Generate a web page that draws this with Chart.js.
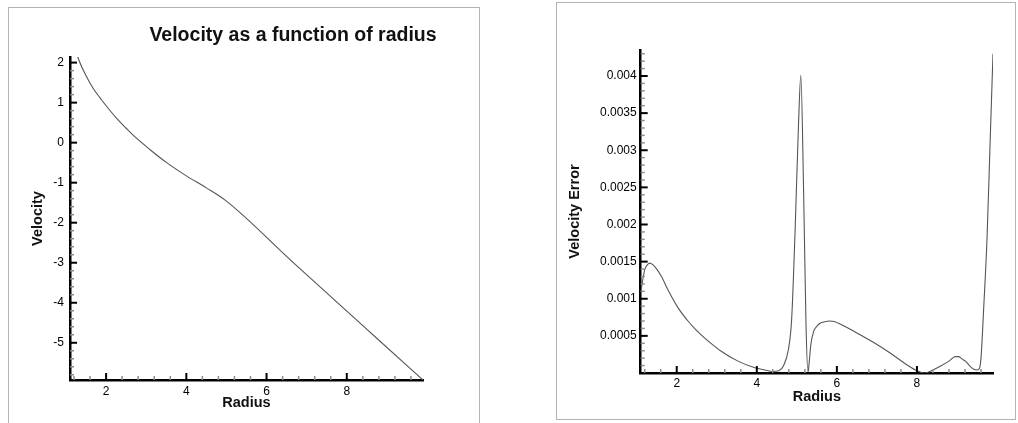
<!DOCTYPE html>
<html>
<head>
<meta charset="utf-8">
<script src="https://cdn.jsdelivr.net/npm/chart.js@4.4.1/dist/chart.umd.min.js"></script>
<style>
body { margin: 0; background: #fff; }
.box { position: absolute; border: 1.5px solid #b4b4b4; }
canvas { position: absolute; }
</style>
</head>
<body>
<div class="box" style="left:8px;top:7px;width:470px;height:430px;"></div>
<div class="box" style="left:556px;top:2px;width:458px;height:416px;"></div>
<canvas id="velChart" width="472" height="416" style="left:8px;top:7px;"></canvas>
<canvas id="errChart" width="459" height="417" style="left:557px;top:3px;"></canvas>
<script>
// velocity vs radius (left panel)
var velRadius = [1.1, 1.3, 1.5, 1.7, 1.85, 2.05, 2.27, 2.5, 2.68, 3.09, 3.51, 4.0, 4.5, 5.0, 6.66, 8.85, 9.9];
var velocity  = [2.8, 2.12, 1.67, 1.32, 1.12, 0.86, 0.6, 0.36, 0.18, -0.17, -0.5, -0.83, -1.13, -1.46, -2.99, -4.98, -5.93];

// velocity error vs radius (right panel)
var errRadius = [1.1, 1.15, 1.2, 1.27, 1.33, 1.4, 1.5, 1.62, 1.78, 2.03,
                 2.28, 2.5, 2.7, 3.12, 3.53, 3.95, 4.2, 4.4, 4.55, 4.67,
                 4.79, 4.87, 4.96, 5.04, 5.1, 5.17, 5.23, 5.28, 5.31, 5.35,
                 5.42, 5.5, 5.58, 5.7, 5.83, 5.95, 6.08, 6.3, 6.5, 6.92,
                 7.33, 7.75, 8.0, 8.2, 8.4, 8.58, 8.8, 8.96, 9.04, 9.12,
                 9.21, 9.33, 9.42, 9.5, 9.56, 9.6, 9.67, 9.75, 9.83, 9.9];
var velError  = [0.00108, 0.00125, 0.00139, 0.00146, 0.00148, 0.00146, 0.0014, 0.0013, 0.00112, 0.00088,
                 0.0007, 0.00057, 0.00047, 0.00029, 0.00016, 0.00007, 0.00004, 0.00002, 0.00003, 0.0001,
                 0.00032, 0.00072, 0.00197, 0.00332, 0.00401, 0.00242, 0.00063, 0.00001, 0.00015, 0.00038,
                 0.00056, 0.00063, 0.00067, 0.00069, 0.0007, 0.00069, 0.00066, 0.0006, 0.00054, 0.00041,
                 0.00027, 0.00011, 0.00003, 0.0, 0.00004, 0.00009, 0.00016, 0.00022, 0.00022, 0.00019,
                 0.00016, 0.00009, 0.00005, 0.00004, 0.00006, 0.0002, 0.0009, 0.0018, 0.00314, 0.0043];

var radiusTicks = [2, 4, 6, 8];
var velTicks = [-5, -4, -3, -2, -1, 0, 1, 2];
var errTicks = [0.0005, 0.001, 0.0015, 0.002, 0.0025, 0.003, 0.0035, 0.004];
var errTickLabels = ['0.0005', '0.001', '0.0015', '0.002', '0.0025', '0.003', '0.0035', '0.004'];

var FONT = '"Liberation Sans", Arial, Helvetica, sans-serif';
Chart.defaults.font.family = FONT;

function minorTicks(from, to, step, majors) {
    var out = [];
    var n = Math.round((to - from) / step);
    for (var i = 0; i <= n; i++) {
        var v = Math.round((from + i * step) * 1e6) / 1e6;
        var isMajor = majors.some(function(m) { return Math.abs(m - v) < 1e-9; });
        if (!isMajor) out.push(v);
    }
    return out;
}

function toPoints(xs, ys) {
    return xs.map(function(x, i) { return { x: x, y: ys[i] }; });
}

// inward tick marks (major + minor) and the free standing title
var axisMarks = {
    id: 'axisMarks',
    afterDraw: function(chart, args, opts) {
        var ctx = chart.ctx;
        var area = chart.chartArea;
        var xs = chart.scales.x, ys = chart.scales.y;
        ctx.save();
        function mark(vals, len, color, width, horiz) {
            ctx.strokeStyle = color;
            ctx.lineWidth = width;
            vals.forEach(function(v) {
                ctx.beginPath();
                if (horiz) {
                    var px = xs.getPixelForValue(v);
                    ctx.moveTo(px, area.bottom);
                    ctx.lineTo(px, area.bottom - len);
                } else {
                    var py = ys.getPixelForValue(v);
                    ctx.moveTo(area.left, py);
                    ctx.lineTo(area.left + len, py);
                }
                ctx.stroke();
            });
        }
        mark(opts.xMinor, 4, '#8c8c8c', 1.5, true);
        mark(opts.yMinor, 4, '#8c8c8c', 1.5, false);
        mark(opts.xMajor, 7, '#000', 2, true);
        mark(opts.yMajor, 7, '#000', 2, false);
        if (opts.title) {
            ctx.font = 'bold 19.5px ' + FONT;
            ctx.fillStyle = '#111';
            ctx.textAlign = 'center';
            ctx.textBaseline = 'middle';
            ctx.fillText(opts.title, opts.titleX, opts.titleY);
        }
        ctx.restore();
    }
};

function makeChart(id, cfg) {
    var ctx = document.getElementById(id).getContext('2d');
    return new Chart(ctx, {
        type: 'line',
        data: {
            datasets: [{
                data: cfg.points,
                borderColor: '#555',
                borderWidth: 1.1,
                pointRadius: 0,
                fill: false,
                cubicInterpolationMode: 'monotone'
            }]
        },
        options: {
            responsive: false,
            animation: false,
            layout: { padding: cfg.padding },
            plugins: {
                legend: { display: false },
                tooltip: { enabled: false },
                axisMarks: cfg.marks
            },
            scales: {
                x: {
                    type: 'linear',
                    min: 1.1,
                    max: 9.9,
                    afterBuildTicks: function(s) { s.ticks = radiusTicks.map(function(v) { return { value: v }; }); },
                    afterFit: function(s) { s.height = 34; },
                    grid: { display: false, drawTicks: false },
                    border: { display: true, color: '#000', width: 2.5 },
                    ticks: {
                        padding: cfg.xPad, color: '#000', autoSkip: false, maxRotation: 0,
                        font: { size: 12 },
                        callback: function(v) { return String(v); }
                    },
                    title: {
                        display: true, text: 'Radius', color: '#111',
                        font: { size: 14.5, weight: 'bold' },
                        padding: { top: 0, bottom: cfg.xTitlePad }
                    }
                },
                y: {
                    type: 'linear',
                    min: cfg.yMin,
                    max: cfg.yMax,
                    afterBuildTicks: function(s) { s.ticks = cfg.yTicks.map(function(v) { return { value: v }; }); },
                    afterFit: function(s) { s.width = cfg.yWidth; },
                    grid: { display: false, drawTicks: false },
                    border: { display: true, color: '#000', width: 2.5 },
                    ticks: {
                        padding: cfg.yPad, color: '#000', autoSkip: false,
                        font: { size: 12 },
                        callback: cfg.yLabel
                    },
                    title: {
                        display: true, text: cfg.yTitle, color: '#111',
                        font: { size: 14.5, weight: 'bold' },
                        padding: { top: cfg.yTitlePad, bottom: 0 }
                    }
                }
            }
        },
        plugins: [axisMarks]
    });
}

var velChart = makeChart('velChart', {
    points: toPoints(velRadius, velocity),
    padding: { left: 0, top: 50, right: 57, bottom: 9 },
    yMin: -5.93, yMax: 2.14,
    yTicks: velTicks,
    yLabel: function(v) { return String(v); },
    yWidth: 62, yPad: 6, yTitlePad: 21.3, yTitle: 'Velocity',
    xPad: 4.5, xTitlePad: 2.3,
    marks: {
        xMajor: radiusTicks, xMinor: minorTicks(1.2, 9.6, 0.4, radiusTicks),
        yMajor: velTicks, yMinor: minorTicks(-5.8, 2.0, 0.2, velTicks),
        title: 'Velocity as a function of radius', titleX: 285, titleY: 29
    }
});

var errChart = makeChart('errChart', {
    points: toPoints(errRadius, velError),
    padding: { left: 0, top: 47, right: 23, bottom: 13 },
    yMin: 0, yMax: 0.00435,
    yTicks: errTicks,
    yLabel: function(v) { return errTickLabels[errTicks.indexOf(v)] || ''; },
    yWidth: 83.7, yPad: 4, yTitlePad: 9.3, yTitle: 'Velocity Error',
    xPad: 3.1, xTitlePad: 1.6,
    marks: {
        xMajor: radiusTicks, xMinor: minorTicks(1.2, 9.6, 0.4, radiusTicks),
        yMajor: errTicks, yMinor: minorTicks(0.0001, 0.0043, 0.0001, errTicks)
    }
});
</script>
</body>
</html>
